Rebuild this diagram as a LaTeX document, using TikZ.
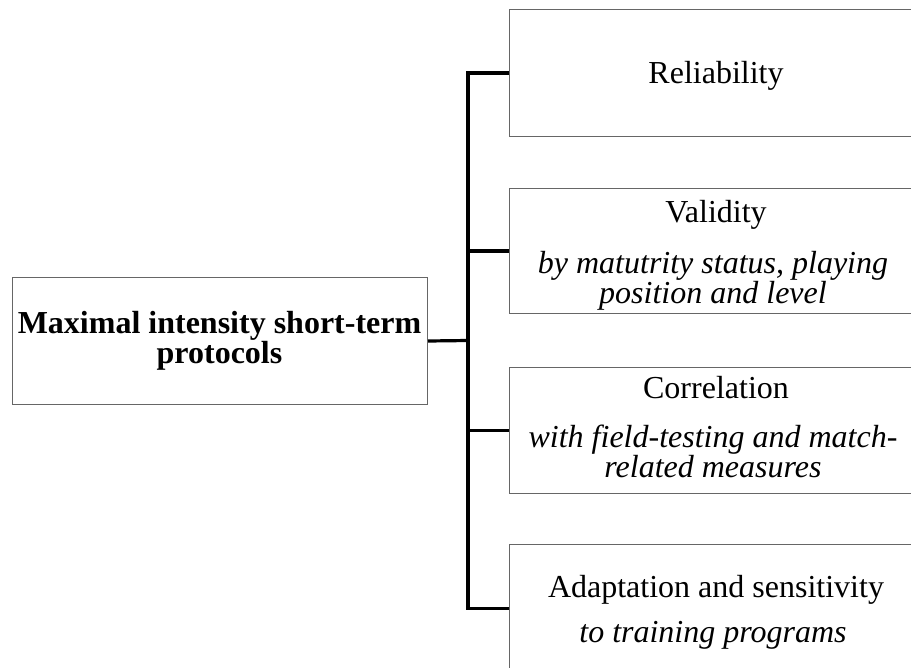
\documentclass[tikz,border=0pt]{standalone}
\usepackage{fontspec}
\setmainfont{Liberation Serif}[ItalicFont={Liberation Serif Italic}, BoldFont={Liberation Serif Bold}]
\begin{document}
\begin{tikzpicture}[x=0.75pt,y=-0.75pt,
  box/.style={draw=black!60, line width=0.75pt, fill=white, rectangle, inner sep=0pt, anchor=north west},
  conn/.style={draw=black, line width=2.4pt, line join=miter},
  txt/.style={inner sep=0pt, anchor=base, font=\fontsize{24}{22.5}\selectfont},
  itx/.style={txt, font=\fontsize{24}{22.5}\selectfont\itshape},
  btx/.style={txt, font=\fontsize{24}{22.5}\selectfont\bfseries}]
\useasboundingbox (0,0) rectangle (911,668);
\clip (0,0) rectangle (911,668);
% boxes
\node[box, minimum width=415*0.75pt, minimum height=127*0.75pt] (main) at (12,277) {};
\node[box, minimum width=414*0.75pt, minimum height=127*0.75pt] (b1) at (509,9) {};
\node[box, minimum width=414*0.75pt, minimum height=125*0.75pt] (b2) at (509,188) {};
\node[box, minimum width=414*0.75pt, minimum height=126*0.75pt] (b3) at (509,367) {};
\node[box, minimum width=414*0.75pt, minimum height=128*0.75pt] (b4) at (509,544) {};
% texts
\node[btx] (m1) at (219.5,333) {Maximal intensity short-term};
\node[btx] (m2) at (219.5,363) {protocols};
\node[txt] (r1) at (716,83) {Reliability};
\node[txt] (v1) at (716,222) {Validity};
\node[itx] (v2) at (713,273) {by matutrity status, playing};
\node[itx] (v3) at (713,303) {position and level};
\node[txt] (c1) at (716,398) {Correlation};
\node[itx] (c2) at (713,447) {with field-testing and match-};
\node[itx] (c3) at (713,477) {related measures};
\node[txt] (a1) at (716,597) {Adaptation and sensitivity};
\node[itx] (a2) at (713,642) {to training programs};
% connectors
\coordinate (j) at (468,340.5);
\draw[conn] (main.east) -- (j);
\draw[conn] (b1.west) -| (j) |- (b4.west);
\draw[conn] (j |- b2.west) -- (b2.west);
\draw[conn] (j |- b3.west) -- (b3.west);
\end{tikzpicture}
\end{document}
